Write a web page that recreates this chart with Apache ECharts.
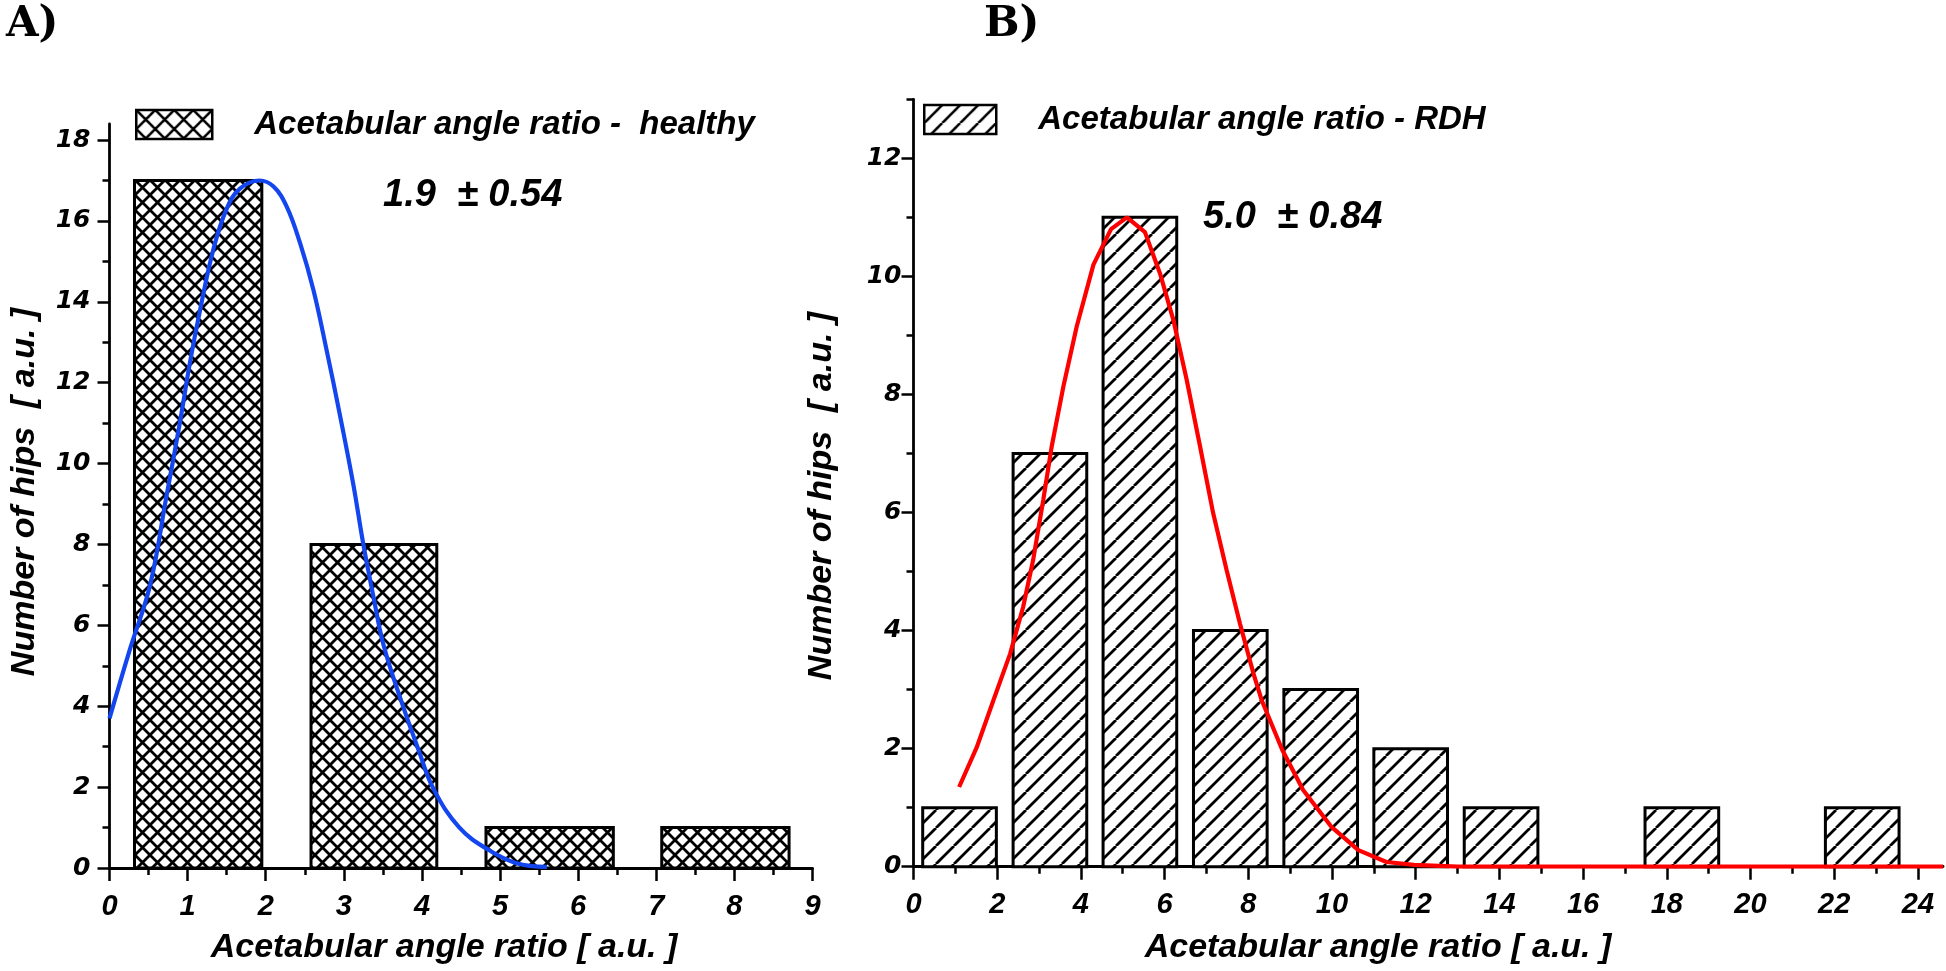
<!DOCTYPE html>
<html><head><meta charset="utf-8">
<script src="https://cdn.jsdelivr.net/npm/echarts@6/dist/echarts.min.js"></script>
<style>html,body{margin:0;padding:0;background:#fff}#c{width:1946px;height:971px}</style>
</head><body><div id="c"></div>
<script>
// ---------- Panel A (healthy) ----------
const binLeftA  = [0.32, 2.58, 4.82, 7.07];
const binRightA = [1.95, 4.19, 6.45, 8.70];
const countsA   = [17, 8, 1, 1];
const fitAx = [0, 0.26, 0.52, 0.73, 0.90, 1.03, 1.16, 1.33, 1.50, 1.67, 1.92, 2.10, 2.27, 2.44, 2.61, 2.78, 2.95, 3.12, 3.25, 3.38, 3.51, 3.74, 3.96, 4.15, 4.48, 4.85, 5.21, 5.60];
const fitAy = [3.7, 5.4, 7.0, 9.2, 11.0, 12.5, 13.8, 15.3, 16.3, 16.8, 17.0, 16.85, 16.35, 15.45, 14.3, 12.8, 11.2, 9.5, 8.0, 6.7, 5.5, 4.1, 2.9, 1.95, 1.0, 0.45, 0.12, 0.03];
const xTicksA = [0,1,2,3,4,5,6,7,8,9];
const xMinorA = [0.5,1.5,2.5,3.5,4.5,5.5,6.5,7.5,8.5];
const yTicksA = [0,2,4,6,8,10,12,14,16,18];
const yMinorA = [1,3,5,7,9,11,13,15,17];
const legendA = 'Acetabular angle ratio -  healthy';
const statA = '1.9  \u00b1 0.54';

// ---------- Panel B (RDH) ----------
const binLeftB  = [0.22, 2.38, 4.53, 6.69, 8.85, 11.00, 13.16, 17.48, 21.79];
const binRightB = [1.98, 4.14, 6.29, 8.45, 10.61, 12.76, 14.92, 19.24, 23.55];
const countsB   = [1, 7, 11, 4, 3, 2, 1, 1, 1];
const fitBx = [1.09, 1.51, 1.91, 2.31, 2.62, 2.86, 3.10, 3.30, 3.58, 3.90, 4.30, 4.72, 5.10, 5.53, 5.89, 6.21, 6.53, 6.85, 7.16, 7.48, 7.80, 8.12, 8.32, 8.81, 9.31, 9.98, 10.63, 11.30, 11.96, 13.0, 24.6];
const fitBy = [1.35, 2.02, 2.82, 3.61, 4.40, 5.20, 6.21, 7.11, 8.13, 9.15, 10.2, 10.8, 11.0, 10.75, 10.05, 9.26, 8.24, 7.11, 5.99, 5.03, 4.12, 3.28, 2.82, 1.98, 1.30, 0.68, 0.28, 0.08, 0.03, 0, 0];
const xTicksB = [0,2,4,6,8,10,12,14,16,18,20,22,24];
const xMinorB = [1,3,5,7,9,11,13,15,17,19,21,23];
const yTicksB = [0,2,4,6,8,10,12];
const yMinorB = [1,3,5,7,9,11,13];
const legendB = 'Acetabular angle ratio - RDH';
const statB = '5.0  \u00b1 0.84';

const xTitle = 'Acetabular angle ratio [ a.u. ]';
const yTitle = 'Number of hips  [ a.u. ]';

// ---------- helpers ----------
function makePattern(size, lw, cross) {
  const c = document.createElement('canvas');
  c.width = size; c.height = size;
  const g = c.getContext('2d');
  g.fillStyle = '#fff'; g.fillRect(0, 0, size, size);
  g.strokeStyle = '#000'; g.lineWidth = lw;
  g.beginPath();
  for (let k = -1; k <= 1; k++) {
    g.moveTo(k * size, size); g.lineTo(k * size + size, 0);
    if (cross) { g.moveTo(k * size, 0); g.lineTo(k * size + size, size); }
  }
  g.stroke();
  return { image: c, repeat: 'repeat' };
}
const patA = makePattern(15, 2.8, true);
const patB = makePattern(18, 2.8, false);
const patLegA = makePattern(19, 2.6, true);
const patLegB = makePattern(18, 2.6, false);

const FONT = '"Liberation Sans", Arial, sans-serif';
const FONT_Y = '"DejaVu Sans", Verdana, sans-serif';

function barRender(pat) {
  return function (params, api) {
    const p0 = api.coord([api.value(0), 0]);
    const p1 = api.coord([api.value(1), api.value(2)]);
    return {
      type: 'rect',
      shape: { x: p0[0], y: p1[1], width: p1[0] - p0[0], height: p0[1] - p1[1] },
      style: { fill: pat, stroke: '#000', lineWidth: 3 }
    };
  };
}
const zip3 = (a, b, c) => a.map((v, i) => [v, b[i], c[i]]);
const zip2 = (a, b) => a.map((v, i) => [v, b[i]]);

const lineSt = { color: '#000', width: 2.8 };
const tickSt = { color: '#000', width: 2.5 };

function mainX(grid, max, ticks, margin, fs) {
  return {
    gridIndex: grid, type: 'value', min: 0, max: max, interval: ticks[1] - ticks[0],
    axisLine: { show: true, onZero: false, lineStyle: lineSt },
    axisTick: { show: true, length: 13, lineStyle: tickSt, customValues: ticks },
    axisLabel: { show: true, customValues: ticks, margin: margin, color: '#000',
      fontFamily: FONT, fontWeight: 'bold', fontStyle: 'italic', fontSize: fs },
    splitLine: { show: false }
  };
}
function minorX(grid, max, ticks) {
  return {
    gridIndex: grid, type: 'value', min: 0, max: max, position: 'bottom',
    axisLine: { show: false }, axisLabel: { show: false }, splitLine: { show: false },
    axisTick: { show: true, length: 7, lineStyle: tickSt, customValues: ticks }
  };
}
function mainY(grid, max, ticks, margin, fs) {
  return {
    gridIndex: grid, type: 'value', min: 0, max: max, interval: ticks[1] - ticks[0],
    axisLine: { show: true, onZero: false, lineStyle: lineSt },
    axisTick: { show: true, length: 12, lineStyle: tickSt, customValues: ticks },
    axisLabel: { show: true, customValues: ticks, margin: margin, color: '#000',
      fontFamily: FONT_Y, fontWeight: 'bold', fontStyle: 'italic', fontSize: fs },
    splitLine: { show: false }
  };
}
function minorY(grid, max, ticks) {
  return {
    gridIndex: grid, type: 'value', min: 0, max: max, position: 'left',
    axisLine: { show: false }, axisLabel: { show: false }, splitLine: { show: false },
    axisTick: { show: true, length: 7, lineStyle: tickSt, customValues: ticks }
  };
}

const titleFont = 'italic bold 34px ' + FONT;
const legendText = { color: '#000', fontFamily: FONT, fontWeight: 'bold', fontStyle: 'italic', fontSize: 33, padding: [22, 0, 0, 37] };

const chart = echarts.init(document.getElementById('c'), null, { renderer: 'canvas' });
chart.setOption({
  animation: false,
  backgroundColor: '#fff',
  grid: [
    { left: 109.5, top: 123.9, width: 703, height: 744.1, outerBoundsMode: 'none', containLabel: false },
    { left: 913.5, top: 99.3, width: 1029.5, height: 767.4, outerBoundsMode: 'none', containLabel: false }
  ],
  xAxis: [
    mainX(0, 9, xTicksA, 24, 29), minorX(0, 9, xMinorA),
    mainX(1, 24.6, xTicksB, 24, 29), minorX(1, 24.6, xMinorB)
  ],
  yAxis: [
    mainY(0, 18.4, yTicksA, 19, 25), minorY(0, 18.4, yMinorA),
    mainY(1, 13, yTicksB, 12, 25), minorY(1, 13, yMinorB)
  ],
  legend: [
    { data: [{ name: legendA, itemStyle: { color: patLegA } }], left: 135, top: 108, padding: 0, itemWidth: 76, itemHeight: 29, icon: 'rect',
      selectedMode: false, itemStyle: { borderColor: '#000', borderWidth: 2.5 }, textStyle: legendText },
    { data: [{ name: legendB, itemStyle: { color: patLegB } }], left: 923, top: 103, padding: 0, itemWidth: 72, itemHeight: 29, icon: 'rect',
      selectedMode: false, itemStyle: { borderColor: '#000', borderWidth: 2.5 }, textStyle: legendText }
  ],
  series: [
    { name: legendA, type: 'custom', xAxisIndex: 0, yAxisIndex: 0, renderItem: barRender(patA),
      itemStyle: { color: patA }, encode: { x: [0, 1], y: 2 }, data: zip3(binLeftA, binRightA, countsA), z: 2 },
    { name: 'fitA', type: 'line', xAxisIndex: 0, yAxisIndex: 0, data: zip2(fitAx, fitAy), smooth: 0.4,
      showSymbol: false, lineStyle: { color: '#1446f0', width: 4.2 }, z: 4 },
    { name: legendB, type: 'custom', xAxisIndex: 2, yAxisIndex: 2, renderItem: barRender(patB),
      itemStyle: { color: patB }, encode: { x: [0, 1], y: 2 }, data: zip3(binLeftB, binRightB, countsB), z: 2 },
    { name: 'fitB', type: 'line', xAxisIndex: 2, yAxisIndex: 2, data: zip2(fitBx, fitBy), smooth: false,
      showSymbol: false, lineStyle: { color: '#ff0000', width: 4.2 }, z: 4 }
  ],
  graphic: [
    { type: 'text', left: 6, top: 4, style: { text: 'A)', font: 'bold 42px "DejaVu Serif", serif', fill: '#000' } },
    { type: 'text', left: 984, top: 4, style: { text: 'B)', font: 'bold 42px "DejaVu Serif", serif', fill: '#000' } },
    { type: 'text', x: 383, y: 196, style: { text: statA, font: 'italic bold 38px ' + FONT, fill: '#000', textVerticalAlign: 'middle' } },
    { type: 'text', x: 1203, y: 218, style: { text: statB, font: 'italic bold 38px ' + FONT, fill: '#000', textVerticalAlign: 'middle' } },
    { type: 'text', x: 444, y: 948, style: { text: xTitle, font: titleFont, fill: '#000', textAlign: 'center', textVerticalAlign: 'middle' } },
    { type: 'text', x: 1378, y: 948, style: { text: xTitle, font: titleFont, fill: '#000', textAlign: 'center', textVerticalAlign: 'middle' } },
    { type: 'text', x: 25, y: 492, rotation: Math.PI / 2, style: { text: yTitle, font: titleFont, fill: '#000', textAlign: 'center', textVerticalAlign: 'middle' } },
    { type: 'text', x: 822, y: 496, rotation: Math.PI / 2, style: { text: yTitle, font: titleFont, fill: '#000', textAlign: 'center', textVerticalAlign: 'middle' } }
  ]
});
</script></body></html>
